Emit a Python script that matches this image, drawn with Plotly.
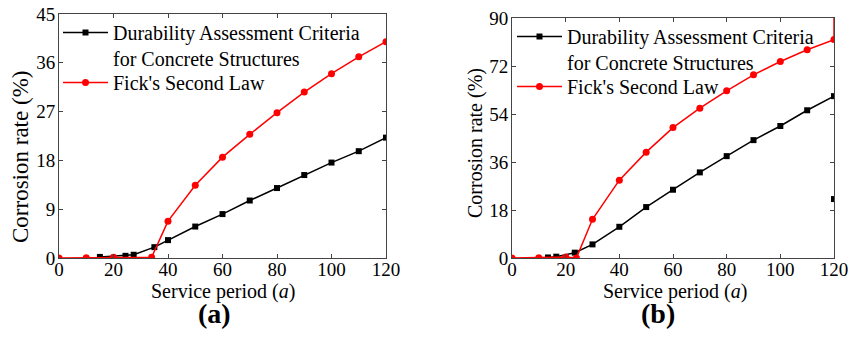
import plotly.graph_objects as go

# ---- data (a) ----
dacs_a_x = [15, 24.4, 27.4, 35, 40, 50, 60, 70, 80, 90, 100, 110, 120]
dacs_a_y = [0.2, 0.4, 0.6, 2.0, 3.3, 5.8, 8.1, 10.6, 12.9, 15.3, 17.6, 19.7, 22.2]
fick_a_x = [0, 10, 20, 34, 40, 50, 60, 70, 80, 90, 100, 110, 120]
fick_a_y = [0, 0.05, 0.15, 0.15, 6.8, 13.4, 18.6, 22.8, 26.8, 30.6, 34.0, 37.1, 39.9]

# ---- data (b) ----
dacs_b_x = [13.4, 16.5, 23.4, 30, 40, 50, 60, 70, 80, 90, 100, 110, 120]
dacs_b_y = [0.2, 0.5, 2.0, 5.1, 11.7, 19.1, 25.6, 32.1, 38.2, 44.2, 49.5, 55.4, 60.7]
fick_b_x = [0, 10, 20, 24, 30, 40, 50, 60, 70, 80, 90, 100, 110, 120, 120]
fick_b_y = [0, 0.1, 0.4, 0, 14.5, 29.2, 39.7, 48.9, 56.2, 62.7, 68.7, 73.7, 78.1, 81.9, 100]
stray_b_x = [120]
stray_b_y = [22.1]

x_ticks = [0, 20, 40, 60, 80, 100, 120]
y_ticks_a = [0, 9, 18, 27, 36, 45]
y_ticks_b = [0, 18, 36, 54, 72, 90]

name_dacs = "Durability Assessment Criteria<br>for Concrete Structures"
name_fick = "Fick's Second Law"

FONT = "Times New Roman, Liberation Serif, DejaVu Serif, serif"
W, H = 852, 350

fig = go.Figure()

def add_pair(xa, ya, xb, yb, xref, yref, leg1, leg2):
    fig.add_trace(go.Scatter(x=xa, y=ya, mode="lines+markers", name=name_dacs,
                             line=dict(color="black", width=1.5),
                             marker=dict(symbol="square", size=6, color="black"),
                             xaxis=xref, yaxis=yref, legend=leg1))
    fig.add_trace(go.Scatter(x=xb, y=yb, mode="lines+markers", name=name_fick,
                             line=dict(color="#FF0000", width=1.5),
                             marker=dict(symbol="circle", size=7, color="#FF0000"),
                             xaxis=xref, yaxis=yref, legend=leg2))

add_pair(dacs_a_x, dacs_a_y, fick_a_x, fick_a_y, "x", "y", "legend", "legend2")
add_pair(dacs_b_x, dacs_b_y, fick_b_x, fick_b_y, "x2", "y2", "legend3", "legend4")
fig.add_trace(go.Scatter(x=stray_b_x, y=stray_b_y, mode="markers", showlegend=False,
                         marker=dict(symbol="square", size=6, color="black"),
                         xaxis="x2", yaxis="y2"))

def px_x(p):
    return p / W

def px_y(p):
    return 1 - p / H

axis_common = dict(showline=True, linecolor="#444", linewidth=1, mirror="ticks",
                   ticks="inside", ticklen=4, tickcolor="#444", tickwidth=1,
                   showgrid=False, zeroline=False, automargin=False,
                   tickfont=dict(family=FONT, size=19, color="black"))

def leg(xp, yp):
    return dict(x=px_x(xp), y=px_y(yp), xanchor="left", yanchor="top",
                bgcolor="rgba(0,0,0,0)", valign="top", itemwidth=45,
                font=dict(family=FONT, size=20, color="black"))

fig.update_layout(
    template="none",
    width=W, height=H,
    margin=dict(l=0, r=0, t=0, b=0, pad=0),
    paper_bgcolor="white", plot_bgcolor="white",
    font=dict(family=FONT, color="black"),
    xaxis=dict(domain=[px_x(59), px_x(386)], range=[0, 120], tickvals=x_ticks,
               anchor="y", ticklabelstandoff=-6, **axis_common),
    yaxis=dict(domain=[px_y(258), px_y(14)], range=[0, 45], tickvals=y_ticks_a,
               anchor="x", ticklabelstandoff=-1, **axis_common),
    xaxis2=dict(domain=[px_x(512), px_x(834)], range=[0, 120], tickvals=x_ticks,
                anchor="y2", ticklabelstandoff=-6, **axis_common),
    yaxis2=dict(domain=[px_y(258), px_y(18)], range=[0, 90], tickvals=y_ticks_b,
                anchor="x2", ticklabelstandoff=-1, **axis_common),
    legend=leg(58, 13),
    legend2=leg(58, 63),
    legend3=leg(512, 17),
    legend4=leg(512, 67),
)

annots = [
    dict(text="Service period (<i>a</i>)", x=px_x(223), y=px_y(291), size=20, angle=0),
    dict(text="Service period (<i>a</i>)", x=px_x(675), y=px_y(291), size=20, angle=0),
    dict(text="Corrosion rate (%)", x=px_x(20), y=px_y(157), size=23, angle=-90),
    dict(text="Corrosion rate (%)", x=px_x(475), y=px_y(143), size=20, angle=-90),
    dict(text="<b>(a)</b>", x=px_x(214), y=px_y(313), size=28, angle=0),
    dict(text="<b>(b)</b>", x=px_x(658), y=px_y(313), size=28, angle=0),
]
for a in annots:
    fig.add_annotation(text=a["text"], x=a["x"], y=a["y"], xref="paper", yref="paper",
                       xanchor="center", yanchor="middle", showarrow=False,
                       textangle=a["angle"],
                       font=dict(family=FONT, size=a["size"], color="black"))

fig.write_html("out.html",
               config={"displayModeBar": False},
               post_script="document.body.style.margin='0';document.body.style.padding='0';")
